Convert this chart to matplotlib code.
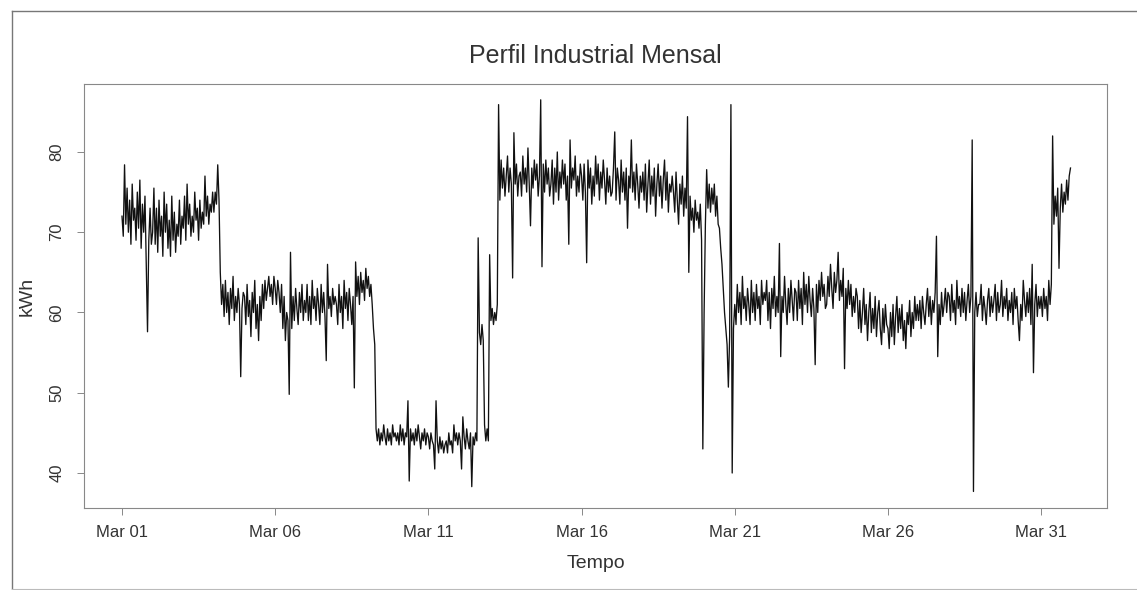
import pandas as pd
import matplotlib
matplotlib.use('Agg')
import matplotlib.pyplot as plt
import matplotlib.dates as mdates
from matplotlib.lines import Line2D

plt.rcParams['font.family'] = ['Liberation Sans', 'DejaVu Sans']

titulo = 'Perfil Industrial Mensal'
inicio = '2013-03-01 00:00'
passo = 'h'
dias_marcados = ['2013-03-01', '2013-03-06', '2013-03-11', '2013-03-16',
                 '2013-03-21', '2013-03-26', '2013-03-31']

# kWh, uma linha por dia (leituras horarias)
kwh = [
    72, 69.5, 78.4, 71, 75.5, 70, 74, 68.5, 76, 71.5, 73, 69, 75, 70.5, 76.5, 68, 73.5, 70, 74.5, 66, 57.6, 69, 73, 68.5,
    70, 75.5, 68.5, 73, 67.5, 74, 69.5, 72, 67, 75, 70, 73.5, 68, 71.5, 67, 74.5, 69, 72.5, 67.5, 71, 69.5, 74, 68.5, 72,
    70.5, 74.5, 69, 76, 71, 73.5, 69.5, 72, 70, 75, 71.5, 73, 69, 74, 70.5, 72.5, 71, 77, 72, 74.5, 71, 73.5, 72.5, 75,
    72.5, 75, 73.5, 78.4, 74, 65, 61, 63.5, 59.5, 64, 60, 62.5, 58.5, 63, 60.5, 64.5, 59, 62, 60, 63, 61, 52, 60.5, 62.5,
    62, 58.5, 63.5, 59.5, 61.5, 57, 62.5, 60, 64, 58, 61, 56.5, 62, 59, 63.5, 60.5, 64, 61.5, 63, 64.5, 62, 63.5, 61, 64.5,
    63, 61, 64, 62.5, 60, 63.5, 58, 62, 56.5, 60, 59, 49.8, 67.5, 58, 62, 59, 63, 60.5, 58.5, 62.5, 60, 63.5, 59, 61.5,
    60, 63.5, 59, 62, 58.5, 64, 60.5, 62, 59, 63, 61, 58.5, 63.5, 60, 62.5, 59.5, 54, 66, 60.5, 62, 59.5, 63, 61, 62,
    61, 58.5, 63.5, 60, 62, 58, 64, 60.5, 62.5, 59, 63, 61, 58.5, 62, 50.6, 66.3, 62, 64.5, 61, 65, 62.5, 64, 61.5, 65.5,
    63, 64.5, 62, 63.5, 61, 58, 56, 45.5, 44, 45.5, 43.5, 45, 44, 46, 44.5, 43.5, 45.5, 44, 45, 43.5, 46, 44.5, 45, 44,
    45, 43.5, 46, 44, 45.5, 43.5, 45, 44.5, 49, 39, 45.5, 44, 45, 43.5, 45.5, 44, 46, 44.5, 43, 45, 44, 45.5, 43.5, 45,
    44.5, 43, 45, 44, 43.5, 40.5, 49, 44, 42.5, 44.5, 43, 44, 42.5, 43.5, 44, 42.5, 45, 43.5, 44, 42.5, 46, 44, 45, 43.5,
    45, 44, 40.5, 47, 44.5, 43, 45.5, 44, 43, 45, 38.3, 44.5, 43.5, 45, 44, 69.3, 57.5, 56, 58.5, 56.5, 46, 44, 45.5, 44,
    67.2, 59, 60.5, 58.5, 60, 59, 61, 85.9, 74, 79, 75.5, 78, 74.5, 77, 79.5, 75, 78, 76, 64.3, 82.4, 76, 78.5, 74.5, 77,
    77.5, 74.5, 79.5, 76, 78, 75, 80.5, 76, 70.8, 78, 75.5, 79, 76.5, 78.5, 74.5, 77, 86.5, 65.7, 78.5, 75, 79, 76, 78, 74.5,
    76, 79, 73.5, 78, 75, 80, 74, 77.5, 75.5, 79, 76, 78.5, 74, 77, 68.5, 81.5, 75.5, 78, 76.5, 79.5, 74.5, 77, 75, 78.5,
    77, 74, 78.5, 75, 66.2, 79, 75.5, 78, 73.5, 77, 74.5, 79.5, 76, 78.5, 74, 77.5, 75.5, 79, 76.5, 73.5, 78, 75, 77, 74.5,
    75, 78, 82.5, 74, 78, 76.5, 73.5, 79, 75, 77.5, 74, 78, 70.5, 77, 75.5, 81.5, 75, 77.5, 74, 78.5, 76, 73, 77, 75,
    77.5, 74, 78.5, 72.5, 76, 79, 73.5, 77, 74.5, 78, 72, 76, 78.5, 74.5, 77, 73, 76.5, 79, 74, 77.5, 72.5, 76, 75, 77,
    75, 72.5, 77.5, 74, 71, 76, 73.5, 77, 72, 75.5, 73, 84.4, 65, 74.5, 71.5, 73, 70, 74, 71.5, 72.5, 70.5, 73.5, 69, 43,
    60, 71, 77.8, 73, 76, 72.5, 75.5, 73.5, 76, 72, 74.5, 71, 70.5, 68, 66, 63, 60, 58, 56, 50.7, 57, 85.9, 40, 58,
    61, 58.5, 63.5, 60, 62.5, 58.5, 64.5, 60.5, 62, 59, 63, 61, 58.5, 64, 60, 62.5, 59, 63.5, 60.5, 62, 58.5, 64, 61, 62.5,
    61.5, 64, 59, 62.5, 58, 63, 60.5, 64.5, 59.5, 62, 60, 68.6, 54.5, 62, 60, 64.5, 61, 58.5, 63, 60, 64, 61.5, 59, 63,
    62.5, 59, 64, 60.5, 63, 58.5, 65, 61, 63.5, 60, 64.5, 61.5, 59.5, 63, 60.5, 53.5, 63.5, 60, 64, 61.5, 65, 62, 63.5, 60.5,
    61, 64.5, 62, 66, 63, 60.5, 65, 62.5, 64, 67.5, 61.5, 64, 62, 65.5, 53, 63, 60.5, 64, 61, 63.5, 59.5, 62, 60, 63,
    62, 58, 61.5, 57.5, 60, 63, 58.5, 61, 56.5, 60, 62.5, 57.5, 60.5, 58, 62, 57, 60, 61.5, 58, 56, 60.5, 57.5, 61, 58.5,
    58, 55.5, 60, 57, 61, 56, 59.5, 62, 57.5, 60.5, 58, 61, 56.5, 59, 55.5, 60, 58.5, 61.5, 57, 60, 58, 62, 59, 61,
    59, 61.5, 58, 62, 60, 58.5, 61, 63, 59.5, 62, 58.5, 61.5, 60, 62.5, 69.5, 54.5, 61, 58.5, 62.5, 59.5, 61, 63, 60, 62.5,
    62, 59, 63.5, 60, 61.5, 58.5, 64, 60.5, 62, 59.5, 63, 60, 62.5, 59, 61.5, 63.5, 60, 62, 81.5, 37.7, 60, 62.5, 59.5, 61,
    61, 63.5, 59, 62, 60.5, 58.5, 61.5, 63, 59.5, 62, 60, 61.5, 63.5, 59, 62.5, 60, 61, 64, 59.5, 62, 60.5, 63, 59, 61.5,
    60, 62.5, 58.5, 63, 60.5, 62, 59, 56.5, 61, 59, 64, 61.5, 59.5, 62.5, 60, 63, 58.5, 66, 52.5, 61, 63.5, 59.5, 62, 60.5,
    62, 59.5, 63, 60.5, 62, 59, 64, 61, 63.5, 82, 71, 74.5, 72, 75.5, 65.5, 73, 76, 72.5, 75, 73.5, 76.5, 74, 77, 78,
]

tempo = pd.date_range(inicio, periods=len(kwh), freq=passo)
t0 = pd.Timestamp(inicio)

fig = plt.figure(figsize=(11.37, 5.9), dpi=100)
ax = fig.add_axes([84/1137, 1-508/590, (1107-84)/1137, (508-84)/590])

ax.plot(tempo, kwh, color='#111111', lw=0.95)

ax.set_xlim(t0 - pd.Timedelta(days=1.24), t0 + pd.Timedelta(days=32.15))
ax.set_ylim(35.64, 88.47)

ax.set_xticks(pd.to_datetime(dias_marcados))
ax.xaxis.set_major_formatter(mdates.DateFormatter('%b %d'))
ax.set_yticks([40, 50, 60, 70, 80])

for s in ax.spines.values():
    s.set_color('#888888')
    s.set_linewidth(0.8)
ax.tick_params(direction='out', length=5, width=0.7, color='#888888',
               labelcolor='#333333', labelsize=12)
ax.tick_params(axis='x', pad=7)
ax.tick_params(axis='y', pad=9)
for lab in ax.get_yticklabels():
    lab.set_rotation(90)
    lab.set_va('center')

ax.set_title(titulo, fontsize=18, color='#333333', pad=15)
ax.set_xlabel('Tempo', fontsize=14, color='#333333', labelpad=11)
ax.set_ylabel('kWh', fontsize=14, color='#333333', labelpad=10)

# moldura exterior
fig.add_artist(Line2D([12/1137, 1], [1-11/590, 1-11/590], color='#777777', lw=1))
fig.add_artist(Line2D([12/1137, 12/1137], [0, 1-11/590], color='#777777', lw=1))
fig.add_artist(Line2D([12/1137, 1], [1/590, 1/590], color='#bbbbbb', lw=0.8))

fig.savefig('out.png', dpi=100)
